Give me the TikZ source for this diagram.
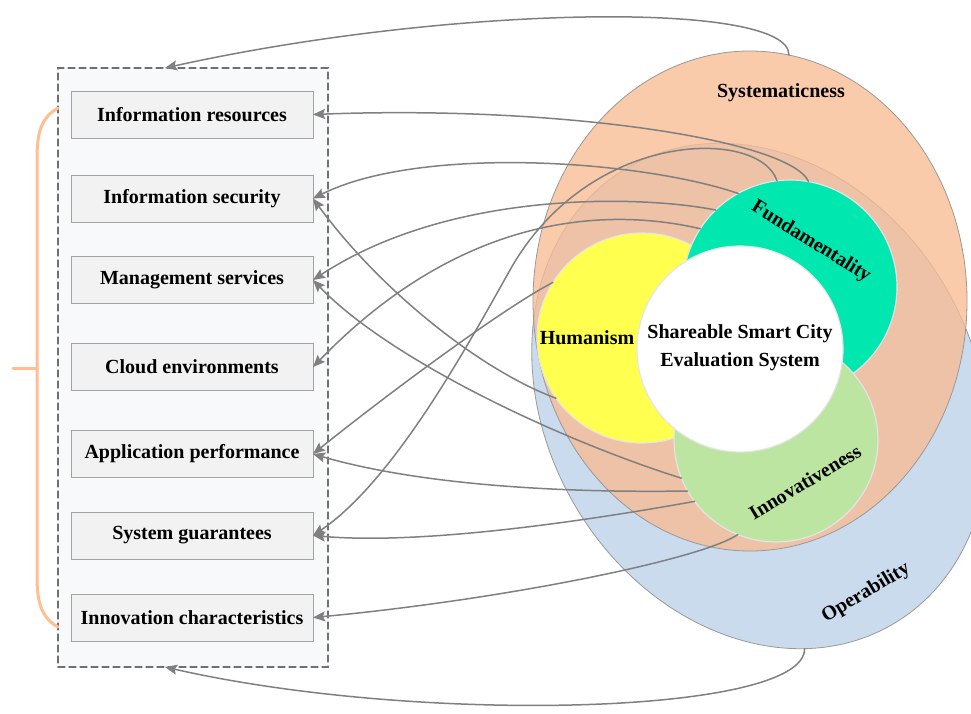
\documentclass[tikz,border=0pt]{standalone}
\usepackage{fontspec}
\setmainfont{Liberation Serif}
\usetikzlibrary{arrows.meta,shapes.geometric}

\definecolor{boxfill}{HTML}{F2F2F2}
\definecolor{boxline}{HTML}{A3A3A3}
\definecolor{framefill}{HTML}{F8F9FA}
\definecolor{frameline}{HTML}{707070}
\definecolor{bracecol}{HTML}{FFBF92}
\definecolor{sysfill}{HTML}{F7BC92}
\definecolor{operfill}{HTML}{CADBEE}
\definecolor{humfill}{HTML}{FFFF50}
\definecolor{fundfill}{HTML}{00E8AF}
\definecolor{innovfill}{HTML}{BBE5A0}
\definecolor{linkgray}{HTML}{808080}

\begin{document}
\begin{tikzpicture}[x=1pt,y=-1pt,line cap=round,
    >={Stealth[length=12pt,width=10pt,inset=2pt]},
    every node/.style={font=\fontsize{20}{28}\selectfont\bfseries},
    factor/.style={draw=boxline,fill=boxfill,line width=1pt,minimum width=242pt,
        minimum height=47pt,inner sep=0pt,outer sep=0pt},
    ring/.style={circle,draw=white!80!gray,line width=1.2pt,inner sep=0pt,
        outer sep=0pt,minimum size=#1},
    oval/.style={ellipse,draw=gray!80,line width=0.8pt,inner sep=0pt,outer sep=0pt},
    link/.style={->,draw=linkgray,line width=1.5pt}]

    \useasboundingbox (0,0) rectangle (971,713);

    % the dashed frame round the factors
    \node[draw=frameline,fill=framefill,line width=1.2pt,dash pattern=on 7pt off 4pt,
        minimum width=270pt,minimum height=599pt,inner sep=0pt,outer sep=0pt]
        (frame) at (193,367.5) {};

    % the orange brace on the left
    \draw[bracecol,line width=3pt] (58,108) .. controls (40,118) and (37,135) .. (37,160)
        -- (37,575) .. controls (37,600) and (40,617) .. (58,627);
    \draw[bracecol,line width=3pt] (13,368) -- (37,368);

    % the factors
    \node[factor] (res)   at (192,114.5) {Information resources};
    \node[factor] (sec)   at (192,198.5) {Information security};
    \node[factor] (mgmt)  at (192,280)   {Management services};
    \node[factor] (cloud) at (192,367)   {Cloud environments};
    \node[factor] (app)   at (192,454)   {Application performance};
    \node[factor] (guar)  at (192,535.5) {System guarantees};
    \node[factor] (char)  at (192,617.5) {Innovation characteristics};

    % the two big ovals
    \node[oval,fill=operfill,minimum width=430pt,minimum height=528pt,rotate=30]
        (oper) at (760,396) {};
    \node[oval,fill=sysfill,fill opacity=.78,minimum width=434pt,minimum height=500pt]
        (sys) at (750,301) {};

    % the inner circles
    \node[ring=210pt,fill=humfill]   (hum)   at (642,338) {};
    \node[ring=214pt,fill=fundfill]  (fund)  at (790,287) {};
    \node[ring=204pt,fill=innovfill] (innov) at (776,440) {};
    \node[ring=206pt,fill=white]     (core)  at (740,349) {};

    % text in the circles
    \node (systxt) at (781,93) {Systematicness};
    \node[rotate=-32] (fundtxt) at (811,242) {Fundamentality};
    \node (humtxt) at (587,338) {Humanism};
    \node[align=center] (coretxt) at (740,348) {Shareable Smart City\\Evaluation System};
    \node[rotate=31] (innovtxt) at (805,482) {Innovativeness};
    \node[rotate=31] (opertxt) at (866,593) {Operability};

    % links from fundamentality
    \draw[link] (fund.80) .. controls (790,140) and (560,105) .. (res.east);
    \draw[link] (fund.119) .. controls (640,160) and (420,145) .. (sec.east);
    \draw[link] (fund.97) .. controls (760,128) and (590,128) .. (510,270)
        .. controls (470,341) and (395,480) .. (guar.east);
    \draw[link] (fund.134) .. controls (640,195) and (450,190) .. (mgmt.east);
    \draw[link] (fund.147) .. controls (620,210) and (470,205) .. (cloud.east);

    % links from humanism
    \draw[link] (hum.215) .. controls (480,370) and (380,290) .. (sec.east);
    \draw[link] (hum.148) .. controls (500,310) and (380,400) .. (app.east);

    % links from innovativeness
    \draw[link] (innov.202) .. controls (560,440) and (390,360) .. (mgmt.east);
    \draw[link] (innov.210) .. controls (560,493) and (420,485) .. (app.east);
    \draw[link] (innov.217) .. controls (580,522) and (420,545) .. (guar.east);
    \draw[link] (innov.248) .. controls (700,560) and (500,600) .. (char.east);

    % links from the ovals to the frame
    \draw[link] (sys.81) .. controls (790,0) and (450,5) .. ([xshift=-28pt]frame.north);
    \draw[link] (oper.250) .. controls (806,715) and (420,725) .. ([xshift=-28pt]frame.south);
\end{tikzpicture}
\end{document}
